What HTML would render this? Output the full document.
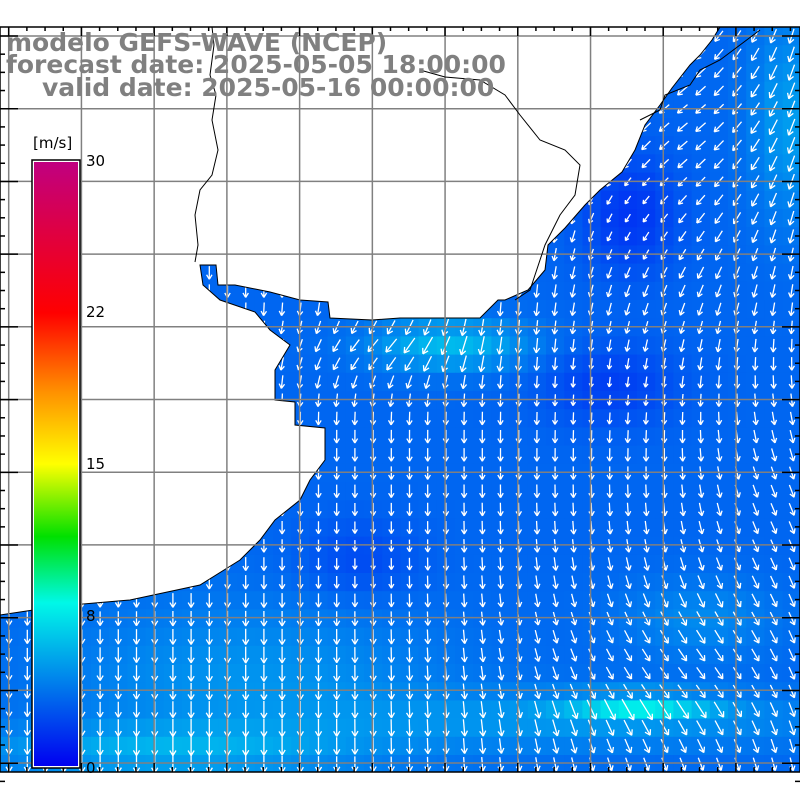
<!DOCTYPE html>
<html><head><meta charset="utf-8"><style>
html,body{margin:0;padding:0;background:#fff;width:800px;height:800px;overflow:hidden}
svg{display:block}
.t{font-family:"DejaVu Sans","Liberation Sans",sans-serif;font-weight:bold;fill:#808080;font-size:25px}
.l{font-family:"DejaVu Sans","Liberation Sans",sans-serif;fill:#000;font-size:15px}
</style></head><body>
<svg id="s" width="800" height="800" xmlns="http://www.w3.org/2000/svg">
<defs>
<linearGradient id="cb" x1="0" y1="1" x2="0" y2="0">
<stop offset="0" stop-color="#0000f0"/>
<stop offset="0.27" stop-color="#00f8e8"/>
<stop offset="0.38" stop-color="#00e000"/>
<stop offset="0.5" stop-color="#ffff00"/>
<stop offset="0.62" stop-color="#ff9000"/>
<stop offset="0.75" stop-color="#ff0000"/>
<stop offset="0.88" stop-color="#e00040"/>
<stop offset="1" stop-color="#c00080"/>
</linearGradient>
<clipPath id="fr"><rect x="0" y="27" width="800" height="745"/></clipPath>
</defs>
<g id="cells" clip-path="url(#fr)"></g>
<g id="arrows" stroke="#fff" stroke-width="1.3" fill="none" clip-path="url(#fr)"></g>
<g clip-path="url(#fr)">
<polygon id="land" fill="#fff" stroke="#000" stroke-width="1" points="0,27 720,27 712,40 700,55 690,65 672,88 660,105 645,125 635,150 622,172 600,190 585,205 565,228 548,245 545,270 528,290 505,300 498,300 480,318 400,318 372,320 330,318 328,302 300,300 270,292 235,285 218,285 216,265 200,265 203,285 220,300 255,312 270,330 290,345 275,370 275,400 295,402 295,425 325,428 325,460 310,480 300,500 275,520 260,540 240,560 200,585 130,600 60,606 20,612 0,615"/>
</g>
<g id="grid" stroke="#808080" stroke-width="1.5" fill="none"></g>
<g clip-path="url(#fr)">
<polyline fill="none" stroke="#000" stroke-width="1" points="212,27 214,45 210,75 216,95 212,120 218,150 212,175 200,190 195,215 198,245 195,262"/>
<polyline fill="none" stroke="#000" stroke-width="1" points="515,300 530,290 545,245 560,215 575,195 580,165 565,150 540,140 520,115 505,95 480,80 445,77 420,70"/>
<polyline fill="none" stroke="#000" stroke-width="1" points="640,120 660,110 665,95 690,85 700,70 720,60 740,45 760,30"/>
</g>
<g id="ticks" stroke="#000" stroke-width="1.5"></g>
<rect x="0" y="27" width="800" height="745" fill="none" stroke="#000" stroke-width="1.5"/>
<text class="t" x="6" y="51">modelo GEFS-WAVE (NCEP)</text>
<text class="t" x="6" y="73">forecast date: 2025-05-05 18:00:00</text>
<text class="t" x="42" y="96">valid date: 2025-05-16 00:00:00</text>
<rect x="32" y="160" width="48" height="608" fill="#fff" stroke="#000" stroke-width="1.5"/>
<rect x="34" y="162" width="44" height="604" fill="url(#cb)"/>
<text class="l" x="33" y="148">[m/s]</text>
<text class="l" x="86" y="166">30</text>
<text class="l" x="86" y="317">22</text>
<text class="l" x="86" y="469">15</text>
<text class="l" x="86" y="621">8</text>
<text class="l" x="86" y="773">0</text>
</svg>
<script>
var NS="http://www.w3.org/2000/svg";
function el(p,t,a){var e=document.createElementNS(NS,t);for(var k in a)e.setAttribute(k,a[k]);p.appendChild(e);return e;}
function G(x,y,cx,cy,rx,ry){var dx=(x-cx)/rx,dy=(y-cy)/ry;return Math.exp(-(dx*dx+dy*dy));}
function speed(x,y){
 var s=3.4;
 s+=2.8*G(x,y,450,345,80,25);
 s-=1.6*G(x,y,630,215,50,60);
 s-=1.3*G(x,y,610,385,70,40);
 s-=1.0*G(x,y,360,560,60,40);
 s+=1.8*G(x,y,790,120,40,100);
 s+=1.5*G(x,y,250,680,200,80);
 s+=2.0*G(x,y,150,750,200,25);
 s+=1.6*G(x,y,600,720,250,30);
 s+=3.4*G(x,y,640,706,70,12);
 s+=1.2*G(x,y,700,620,80,40);
 return Math.max(1.5,s);
}
function col(s){
 var t=Math.min(s/8,1.25);
 if(t<=1){return "rgb(0,"+Math.round(240*t)+","+Math.round(245-10*t)+")";}
 var u=(t-1)/0.25;return "rgb(0,"+Math.round(240-10*u)+","+Math.round(235-100*u)+")";
}
function ang(x,y){
 var a=90;
 a+=50*G(x,y,680,120,120,200);
 a+=40*G(x,y,380,350,90,40);
 a-=35*G(x,y,680,680,160,120);
 a-=20*G(x,y,780,500,80,120);
 return a*Math.PI/180;
}
var cells=document.getElementById("cells"),arr=document.getElementById("arrows");
var d=18.2;
for(var y=27;y<772;y+=d){for(var x=0;x<800;x+=d){
 var cx=x+d/2,cy=y+d/2,s=speed(cx,cy);
 el(cells,"rect",{x:x,y:y,width:d+0.6,height:d+0.6,fill:col(s)});
 var L=Math.min(5+s*2.4,26),a=ang(cx,cy);
 var dx=Math.cos(a)*L,dy=Math.sin(a)*L;
 var x0=cx-dx/2,y0=cy-dy/2,x1=cx+dx/2,y1=cy+dy/2;
 var h=Math.min(6,L*0.4),p="M"+x0+","+y0+"L"+x1+","+y1;
 [a+2.6,a-2.6].forEach(function(b){p+="M"+x1+","+y1+"l"+(Math.cos(b)*h)+","+(Math.sin(b)*h);});
 el(arr,"path",{d:p});
}}
var g=document.getElementById("grid");
for(var i=0;i<12;i++){var gx=8.7+72.73*i;el(g,"line",{x1:gx,y1:27,x2:gx,y2:772});}
for(var i=0;i<11;i++){var gy=36+72.7*i;el(g,"line",{x1:0,y1:gy,x2:800,y2:gy});}
var tk=document.getElementById("ticks");
for(var i=0;i<45;i++){var gx=8.7+18.18*i,big=i%4==0;el(tk,"line",{x1:gx,y1:27,x2:gx,y2:big?36:31});el(tk,"line",{x1:gx,y1:772,x2:gx,y2:big?763:767});}
for(var i=0;i<42;i++){var gy=36+18.18*i,big=i%4==0;el(tk,"line",{x1:0,y1:gy,x2:big?18:5,y2:gy});el(tk,"line",{x1:800,y1:gy,x2:big?782:795,y2:gy});}
</script>
</body></html>
